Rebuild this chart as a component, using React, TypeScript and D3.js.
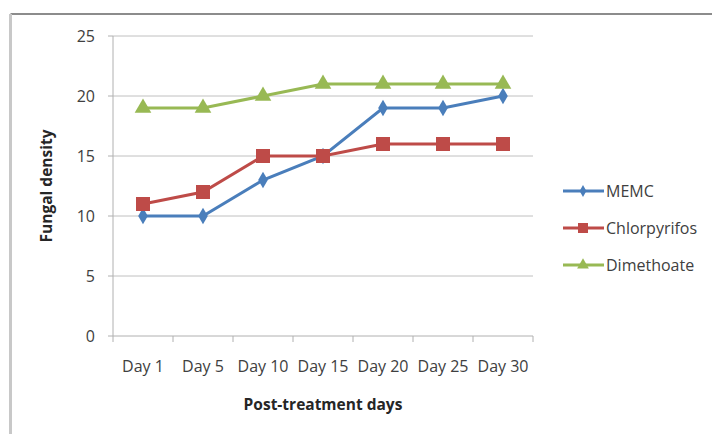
import React from "react";
import * as d3 from "d3";

const categories = ["Day 1", "Day 5", "Day 10", "Day 15", "Day 20", "Day 25", "Day 30"];
const memc = [10, 10, 13, 15, 19, 19, 20];
const chlorpyrifos = [11, 12, 15, 15, 16, 16, 16];
const dimethoate = [19, 19, 20, 21, 21, 21, 21];
const yTicks = [0, 5, 10, 15, 20, 25];
const seriesNames = ["MEMC", "Chlorpyrifos", "Dimethoate"];

const W = 712;
const H = 434;
const FONT = "'Open Sans', 'Liberation Sans', sans-serif";

const plot = { left: 113, right: 533, top: 36, bottom: 336 };

const series = [
  { name: seriesNames[0], values: memc, color: "#4a7ebb", marker: "diamond" },
  { name: seriesNames[1], values: chlorpyrifos, color: "#be4b48", marker: "square" },
  { name: seriesNames[2], values: dimethoate, color: "#98b954", marker: "triangle" },
];

function Marker({ type, x, y, color }: { type: string; x: number; y: number; color: string }) {
  if (type === "square") {
    return <rect x={x - 7} y={y - 7} width={14} height={14} fill={color} />;
  }
  const sym =
    type === "diamond"
      ? d3.symbol(d3.symbolDiamond, 80)
      : d3.symbol(d3.symbolTriangle, 120);
  return <path d={sym() ?? ""} transform={`translate(${x},${y})`} fill={color} />;
}

export default function App() {
  const x = d3.scaleBand<string>().domain(categories).range([plot.left, plot.right]);
  const y = d3.scaleLinear().domain([0, 25]).range([plot.bottom, plot.top]);
  const cx = (c: string) => (x(c) ?? 0) + x.bandwidth() / 2;
  const line = d3
    .line<number>()
    .x((_, i) => cx(categories[i]))
    .y((v) => y(v));

  const xTickPositions = [...categories.map((c) => x(c) ?? 0), plot.right];

  return (
    <svg
      width={W}
      height={H}
      style={{ position: "absolute", left: 0, top: 0, background: "#fff" }}
      fontFamily={FONT}
    >
      {/* chart frame */}
      <line x1={10.5} y1={14} x2={W} y2={14} stroke="#8c8c8c" strokeWidth={2} />
      <line x1={10.5} y1={14} x2={10.5} y2={H} stroke="#c8c8c8" strokeWidth={3} />

      {/* gridlines and y ticks */}
      {yTicks.map((t) => (
        <g key={t}>
          {t > 0 && (
            <line x1={plot.left} x2={plot.right} y1={y(t)} y2={y(t)} stroke="#c0c0c0" strokeWidth={1} />
          )}
          <line x1={plot.left - 5} x2={plot.left} y1={y(t)} y2={y(t)} stroke="#b0b0b0" />
          <text x={plot.left - 18} y={y(t)} dy="0.35em" textAnchor="end" fontSize={16} fill="#404040">
            {t}
          </text>
        </g>
      ))}

      {/* axes */}
      <line x1={plot.left} x2={plot.left} y1={plot.top} y2={plot.bottom} stroke="#b0b0b0" />
      <line x1={plot.left} x2={plot.right} y1={plot.bottom} y2={plot.bottom} stroke="#b0b0b0" />
      {xTickPositions.map((p, i) => (
        <line key={i} x1={p} x2={p} y1={plot.bottom} y2={plot.bottom + 6} stroke="#b0b0b0" />
      ))}
      {categories.map((c) => (
        <text key={c} x={cx(c)} y={372} textAnchor="middle" fontSize={16} fill="#404040">
          {c}
        </text>
      ))}

      {/* axis titles */}
      <text x={323} y={410} textAnchor="middle" fontSize={15.5} fontWeight="bold" fill="#262626">
        Post-treatment days
      </text>
      <text
        transform={`translate(52,${(plot.top + plot.bottom) / 2}) rotate(-90)`}
        textAnchor="middle"
        fontSize={15.5}
        fontWeight="bold"
        fill="#262626"
      >
        Fungal density
      </text>

      {/* series */}
      {series.map((s) => (
        <g key={s.name}>
          <path d={line(s.values) ?? ""} fill="none" stroke={s.color} strokeWidth={3} />
          {s.values.map((v, i) => (
            <Marker key={i} type={s.marker} x={cx(categories[i])} y={y(v)} color={s.color} />
          ))}
        </g>
      ))}

      {/* legend */}
      {series.map((s, i) => {
        const ly = 191 + i * 37;
        return (
          <g key={s.name}>
            <line x1={563} x2={604} y1={ly} y2={ly} stroke={s.color} strokeWidth={3} />
            {s.marker === "square" ? (
              <rect x={578} y={ly - 5} width={10} height={10} fill={s.color} />
            ) : (
              <path
                d={
                  (s.marker === "diamond"
                    ? d3.symbol(d3.symbolDiamond, 40)
                    : d3.symbol(d3.symbolTriangle, 60))() ?? ""
                }
                transform={`translate(583,${ly})`}
                fill={s.color}
              />
            )}
            <text x={606} y={ly} dy="0.35em" fontSize={16} fill="#404040">
              {s.name}
            </text>
          </g>
        );
      })}
    </svg>
  );
}
